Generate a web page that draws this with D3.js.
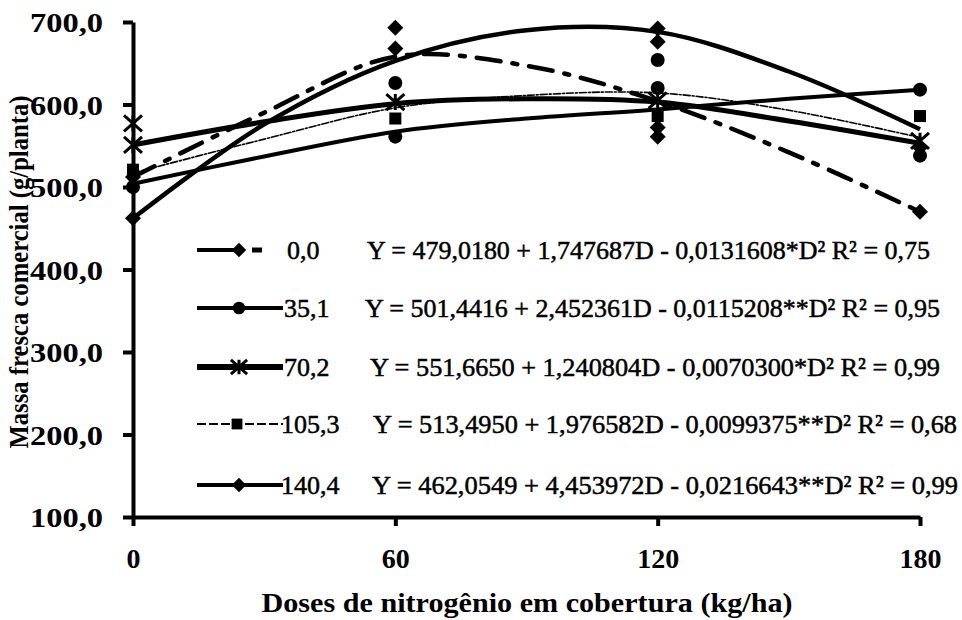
<!DOCTYPE html>
<html>
<head>
<meta charset="utf-8">
<script src="https://cdn.jsdelivr.net/npm/d3@7/dist/d3.min.js"></script>
<style>
  body { margin: 0; background: #fff; }
  svg { display: block; }
  text { font-family: "Liberation Serif", "Times New Roman", serif; fill: #000; }
</style>
</head>
<body>
<svg id="chart" width="962" height="620"></svg>
<script>
// Nitrogen top-dressing doses (x axis) and the doses where the fitted curves are traced
const doses = [0, 60, 120, 180];
const curveDoses = [0, 30, 60, 90, 120, 150, 180];
const yTicks = [100, 200, 300, 400, 500, 600, 700];

// Legend labels (planting-furrow N dose) and regression equations
const seriesLabels = ["0,0", "35,1", "70,2", "105,3", "140,4"];
const equations = [
  "Y = 479,0180 + 1,747687D - 0,0131608*D² R² = 0,75",
  "Y = 501,4416 + 2,452361D - 0,0115208**D² R² = 0,95",
  "Y = 551,6650 + 1,240804D - 0,0070300*D² R² = 0,99",
  "Y = 513,4950 + 1,976582D - 0,0099375**D² R² = 0,68",
  "Y = 462,0549 + 4,453972D - 0,0216643**D² R² = 0,99"
];

// Fitted response curves (g/planta) at curveDoses
const fit00  = [512, 590, 658, 647, 604, 542, 470];
const fit351 = [504, 537, 567, 583, 594, 607, 618];
const fit702 = [551, 579, 601, 607, 603, 580, 553];
const fit1053 = [517, 558, 596, 611, 614, 593, 560];
const fit1404 = [462, 576, 653, 690, 688, 640, 570];

// Observed means (dose, g/planta)
const obs00  = [[0, 512], [60, 668], [120, 676], [180, 470]];
const obs351 = [[0, 500], [60, 626], [60, 561], [120, 654], [120, 620], [180, 618], [180, 538]];
const obs702 = [[0, 577], [0, 551], [60, 603], [120, 605], [180, 556]];
const obs1053 = [[0, 521], [60, 583], [120, 586], [180, 586]];
const obs1404 = [[0, 462], [60, 693], [120, 692], [120, 572], [120, 561], [180, 548]];

const series = [
  { label: seriesLabels[0], eq: equations[0], fit: fit00,  obs: obs00,  shape: "diamond",  width: 4.5, dash: "24,12,5,12" },
  { label: seriesLabels[1], eq: equations[1], fit: fit351, obs: obs351, shape: "circle",   width: 4,   dash: null },
  { label: seriesLabels[2], eq: equations[2], fit: fit702, obs: obs702, shape: "asterisk", width: 5,   dash: null },
  { label: seriesLabels[3], eq: equations[3], fit: fit1053, obs: obs1053, shape: "square",  width: 1.6, dash: "7,2,2,2" },
  { label: seriesLabels[4], eq: equations[4], fit: fit1404, obs: obs1404, shape: "diamond", width: 4.5, dash: null }
];

// Legend layout
const legendRowY = [250, 308, 367, 424, 485];
const eqStartX = [367, 365, 370, 373, 372];
const eqWidth = [563, 575, 570, 584, 586];

const svg = d3.select("#chart");
const x = d3.scaleLinear().domain([0, 180]).range([133, 920]);
const y = d3.scaleLinear().domain([100, 700]).range([517, 22]);

const comma1 = d => d.toFixed(1).replace(".", ",");

// Marker drawing
function marker(g, shape, cx, cy, big) {
  const s = big ? 1 : 0.9;
  if (shape === "diamond") {
    const r = 8 * s;
    g.append("path").attr("d", `M${cx},${cy - r}L${cx + r},${cy}L${cx},${cy + r}L${cx - r},${cy}Z`).attr("fill", "#000");
  } else if (shape === "circle") {
    g.append("circle").attr("cx", cx).attr("cy", cy).attr("r", 7 * s).attr("fill", "#000");
  } else if (shape === "square") {
    const h = 6 * s;
    g.append("rect").attr("x", cx - h).attr("y", cy - h).attr("width", 2 * h).attr("height", 2 * h).attr("fill", "#000");
  } else if (shape === "asterisk") {
    const a = 9 * s, b = 8 * s;
    g.append("path")
      .attr("d", `M${cx - a},${cy - b}L${cx + a},${cy + b}M${cx - a},${cy + b}L${cx + a},${cy - b}M${cx},${cy - b}L${cx},${cy + b}`)
      .attr("stroke", "#000").attr("stroke-width", 3).attr("fill", "none");
  }
}

// Axes
const yAxis = svg.append("g").attr("transform", `translate(${x(0)},0)`)
  .call(d3.axisLeft(y).tickValues(yTicks).tickSize(10).tickSizeOuter(0).tickPadding(20).tickFormat(comma1));
yAxis.select(".domain").attr("stroke", "#000").attr("stroke-width", 4);
yAxis.selectAll(".tick line").attr("stroke", "#000").attr("stroke-width", 4);
yAxis.selectAll(".tick text")
  .attr("font-size", 28).attr("font-weight", "bold")
  .attr("font-family", "Liberation Serif")
  .attr("dy", "0.34em")
  .attr("textLength", 73).attr("lengthAdjust", "spacingAndGlyphs");

const xAxis = svg.append("g").attr("transform", `translate(0,${y(100)})`)
  .call(d3.axisBottom(x).tickValues(doses).tickSize(9).tickSizeOuter(0).tickFormat(d3.format("d")));
xAxis.select(".domain").attr("stroke", "#000").attr("stroke-width", 4);
xAxis.selectAll(".tick line").attr("stroke", "#000").attr("stroke-width", 4);
xAxis.selectAll(".tick text")
  .attr("font-size", 28).attr("font-weight", "bold")
  .attr("font-family", "Liberation Serif")
  .attr("y", 51).attr("dy", null);

// Axis titles
svg.append("text")
  .attr("x", 527).attr("y", 612)
  .attr("text-anchor", "middle")
  .attr("font-size", 28).attr("font-weight", "bold")
  .attr("textLength", 531).attr("lengthAdjust", "spacingAndGlyphs")
  .text("Doses de nitrogênio em cobertura (kg/ha)");

svg.append("text")
  .attr("transform", "translate(28,272) rotate(-90)")
  .attr("text-anchor", "middle")
  .attr("font-size", 27).attr("font-weight", "bold")
  .attr("textLength", 353).attr("lengthAdjust", "spacingAndGlyphs")
  .text("Massa fresca comercial (g/planta)");

// Fitted curves
const line = d3.line()
  .x((d, i) => x(curveDoses[i]))
  .y(d => y(d))
  .curve(d3.curveCatmullRom.alpha(0.5));

const plot = svg.append("g");
series.forEach(s => {
  plot.append("path")
    .attr("d", line(s.fit))
    .attr("fill", "none")
    .attr("stroke", "#000")
    .attr("stroke-width", s.width)
    .attr("stroke-linecap", s.dash ? "round" : "butt")
    .attr("stroke-dasharray", s.dash);
});

// Observed means
const pts = svg.append("g");
series.forEach(s => {
  s.obs.forEach(([d, v]) => marker(pts, s.shape, x(d), y(v), true));
});

// Legend
const legend = svg.append("g");
series.forEach((s, i) => {
  const ly = legendRowY[i];
  const lg = legend.append("g");
  if (i === 0) {
    lg.append("line").attr("x1", 197).attr("x2", 242).attr("y1", ly).attr("y2", ly)
      .attr("stroke", "#000").attr("stroke-width", 4);
    lg.append("line").attr("x1", 252).attr("x2", 262).attr("y1", ly).attr("y2", ly)
      .attr("stroke", "#000").attr("stroke-width", 5);
  } else {
    lg.append("line").attr("x1", 197).attr("x2", 283).attr("y1", ly).attr("y2", ly)
      .attr("stroke", "#000")
      .attr("stroke-width", i === 2 ? 6 : (i === 3 ? 2 : 4))
      .attr("stroke-dasharray", i === 3 ? "9,3" : null);
  }
  marker(lg, s.shape, i === 3 ? 237 : 239, ly, false);
  lg.append("text")
    .attr("x", i === 0 ? 287 : (i >= 3 ? 281 : 284)).attr("y", ly + 9)
    .attr("font-size", 26)
    .attr("stroke", "#000").attr("stroke-width", 0.5)
    .text(s.label);
  lg.append("text")
    .attr("x", eqStartX[i]).attr("y", ly + 9)
    .attr("font-size", 26)
    .attr("stroke", "#000").attr("stroke-width", 0.5)
    .attr("textLength", eqWidth[i]).attr("lengthAdjust", "spacingAndGlyphs")
    .text(s.eq);
});
</script>
</body>
</html>
